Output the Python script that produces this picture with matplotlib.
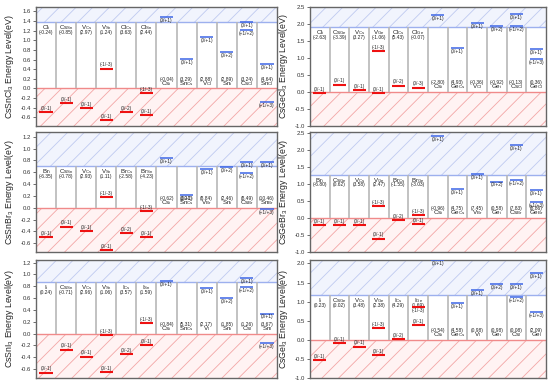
import matplotlib.pyplot as plt



# FONTS

plt.rcParams['font.family'] = ['Liberation Sans', 'DejaVu Sans']
plt.rcParams['mathtext.default'] = 'regular'
plt.rcParams['hatch.linewidth'] = 0.6



# DATA  (defect, formation energy, transition levels in eV)

sncl_names = ["Cl_i", "Cs_Sn", "V_Cs", "V_Sn", "Cl_Cs", "Cl_Sn",
              "Cs_i", "Sn_Cs", "V_Cl", "Sn_i", "Cs_Cl", "Sn_Cl"]
sncl_eform = [-0.24, -0.85, 2.97, 1.24, 3.63, 2.44, -0.04, 3.29, 2.88, 2.89, 3.24, 4.64]
sncl_cbm = 1.37
sncl_levels = [("Cl_i", -0.49, "(0/-1)"), ("Cs_Sn", -0.30, "(0/-1)"), ("V_Cs", -0.41, "(0/-1)"),
               ("V_Sn", 0.41, "(-1/-3)"), ("V_Sn", -0.66, "(0/-1)"), ("Cl_Cs", -0.49, "(0/-2)"),
               ("Cl_Sn", -0.10, "(-1/-3)"), ("Cl_Sn", -0.56, "(0/-1)"),
               ("Cs_i", 1.49, "(0/+1)"), ("Sn_Cs", 0.61, "(0/+1)"), ("V_Cl", 1.06, "(0/+1)"),
               ("Sn_i", 0.75, "(0/+2)"), ("Cs_Cl", 1.38, "(0/+1)"), ("Cs_Cl", 1.21, "(+1/+2)"),
               ("Sn_Cl", 0.51, "(0/+1)"), ("Sn_Cl", -0.29, "(+1/+3)")]

snbr_names = ["Br_i", "Cs_Sn", "V_Cs", "V_Sn", "Br_Cs", "Br_Sn",
              "Cs_i", "Sn_Cs", "V_Br", "Sn_i", "Cs_Br", "Sn_Br"]
snbr_eform = [-6.35, -0.78, 2.93, 1.11, -2.58, -4.23, -0.62, 3.21, 8.84, 2.46, 8.49, 10.46]
snbr_cbm = 0.70
snbr_levels = [("Br_i", -0.50, "(0/-1)"), ("Cs_Sn", -0.32, "(0/-1)"), ("V_Cs", -0.39, "(0/-1)"),
               ("V_Sn", 0.18, "(-1/-3)"), ("V_Sn", -0.72, "(0/-1)"), ("Br_Cs", -0.43, "(0/-2)"),
               ("Br_Sn", -0.06, "(-1/-3)"), ("Br_Sn", -0.50, "(0/-1)"),
               ("Cs_i", 0.85, "(0/+1)"), ("Sn_Cs", 0.22, "(0/+1)"), ("V_Br", 0.66, "(0/+1)"),
               ("Sn_i", 0.69, "(0/+2)"), ("Cs_Br", 0.78, "(0/+1)"), ("Cs_Br", 0.58, "(+1/+2)"),
               ("Sn_Br", 0.78, "(0/+1)"), ("Sn_Br", -0.03, "(+1/+3)")]

sni_names = ["I_i", "Cs_Sn", "V_Cs", "V_Sn", "I_Cs", "I_Sn",
             "Cs_i", "Sn_Cs", "V_I", "Sn_i", "Cs_I", "Sn_I"]
sni_eform = [0.24, -0.71, 2.96, 1.06, 3.57, 1.59, -0.84, 5.31, 2.17, 1.85, 1.26, 3.67]
sni_cbm = 0.87
sni_levels = [("I_i", -0.66, "(0/-1)"), ("Cs_Sn", -0.27, "(0/-1)"), ("V_Cs", -0.39, "(0/-1)"),
              ("V_Sn", -0.03, "(-1/-3)"), ("V_Sn", -0.65, "(0/-1)"), ("I_Cs", -0.35, "(0/-2)"),
              ("I_Sn", 0.18, "(-1/-3)"), ("I_Sn", -0.20, "(0/-1)"),
              ("Cs_i", 0.89, "(0/+1)"), ("V_I", 0.77, "(0/+1)"), ("Sn_i", 0.60, "(0/+2)"),
              ("Cs_I", 0.94, "(0/+1)"), ("Cs_I", 0.79, "(+1/+2)"),
              ("Sn_I", 0.34, "(0/+1)"), ("Sn_I", -0.16, "(+1/+3)")]

gecl_names = ["Cl_i", "Cs_Ge", "V_Cs", "V_Ge", "Cl_Cs", "Cl_Ge",
              "Cs_i", "Ge_Cs", "V_Cl", "Ge_i", "Cs_Cl", "Ge_Cl"]
gecl_eform = [-2.63, -3.39, 3.27, -1.06, 5.43, -0.07, -2.80, 4.93, -0.36, -0.92, -0.13, 0.36]
gecl_cbm = 1.91
gecl_levels = [("Cl_i", -0.05, "(0/-1)"), ("Cs_Ge", 0.21, "(0/-1)"), ("V_Cs", 0.04, "(0/-1)"),
               ("V_Ge", 1.20, "(-1/-3)"), ("V_Ge", -0.05, "(0/-1)"), ("Cl_Cs", 0.18, "(0/-2)"),
               ("Cl_Ge", 0.12, "(0/-3)"),
               ("Cs_i", 2.26, "(0/+1)"), ("Ge_Cs", 1.29, "(0/+1)"), ("V_Cl", 2.04, "(0/+1)"),
               ("Ge_i", 1.93, "(0/+2)"), ("Cs_Cl", 2.30, "(0/+1)"), ("Cs_Cl", 1.93, "(+1/+2)"),
               ("Ge_Cl", 1.27, "(0/+1)"), ("Ge_Cl", 0.97, "(+1/+3)")]

gebr_names = ["Br_i", "Cs_Ge", "V_Cs", "V_Ge", "Br_Cs", "Br_Ge",
              "Cs_i", "Ge_Cs", "V_Br", "Ge_i", "Cs_Br", "Ge_Br"]
gebr_eform = [-6.80, 0.62, 3.58, 2.47, -1.55, -3.03, -0.96, 4.75, 7.45, 0.58, 7.83, 8.86]
gebr_cbm = 1.27
gebr_levels = [("Br_i", -0.22, "(0/-1)"), ("Cs_Ge", -0.22, "(0/-1)"), ("V_Cs", -0.22, "(0/-1)"),
               ("V_Ge", 0.34, "(-1/-3)"), ("V_Ge", -0.61, "(0/-1)"), ("Br_Cs", -0.06, "(0/-2)"),
               ("Br_Ge", 0.09, "(-1/-3)"), ("Br_Ge", -0.18, "(0/-1)"),
               ("Cs_i", 2.42, "(0/+1)"), ("Ge_Cs", 0.84, "(0/+1)"), ("V_Br", 1.30, "(0/+1)"),
               ("Ge_i", 1.07, "(0/+2)"), ("Cs_Br", 2.14, "(0/+1)"), ("Cs_Br", 1.11, "(+1/+2)"),
               ("Ge_Br", 0.83, "(0/+1)"), ("Ge_Br", 0.46, "(+1/+3)")]

gei_names = ["I_i", "Cs_Ge", "V_Cs", "V_Ge", "I_Cs", "I_Ge",
             "Cs_i", "Ge_Cs", "V_I", "Ge_i", "Cs_I", "Ge_I"]
gei_eform = [0.23, 0.02, 3.48, 2.38, 4.29, 1.69, -0.54, 4.58, 0.98, 0.98, 0.08, 2.09]
gei_cbm = 1.18
gei_levels = [("I_i", -0.54, "(0/-1)"), ("Cs_Ge", -0.08, "(0/-1)"), ("V_Cs", -0.18, "(0/-1)"),
              ("V_Ge", 0.30, "(-1/-3)"), ("V_Ge", -0.41, "(0/-1)"), ("I_Cs", 0.01, "(0/-2)"),
              ("I_Ge", 0.86, "(-1/-3)"), ("I_Ge", 0.38, "(0/-1)"),
              ("Cs_i", 2.08, "(0/+1)"), ("Ge_Cs", 0.96, "(0/+1)"), ("V_I", 1.30, "(0/+1)"),
              ("Ge_i", 1.45, "(0/+2)"), ("Cs_I", 1.45, "(0/+1)"), ("Cs_I", 1.11, "(+1/+2)"),
              ("Ge_I", 1.74, "(0/+1)"), ("Ge_I", 0.73, "(+1/+3)")]
gei_label_below = [("I_Ge", "(-1/-3)")]



# DRAWING

def pretty(name):
    base, sub = name.split("_")
    return base + "$_{" + sub + "}$"


def draw_panel(ax, names, eform, cbm, levels, ylim, yticks, ylabel, label_below=()):
    n = len(names)
    ax.set_xlim(0, n)
    ax.set_ylim(*ylim)

    # valence / conduction band regions
    ax.axhspan(ylim[0], 0, facecolor='#fff3f3', edgecolor='#f3a5a5', hatch='//', lw=0, zorder=0)
    ax.axhspan(cbm, ylim[1], facecolor='#f1f4fd', edgecolor='#bfcaf0', hatch='//', lw=0, zorder=0)
    ax.axhline(0, color='#f08a8a', lw=1.0, zorder=1)
    ax.axhline(cbm, color='#9db0ee', lw=1.0, zorder=1)
    ax.vlines(range(1, n), 0, cbm, color='#b8b8b8', lw=1.2, zorder=1)

    for i, (nm, ef) in enumerate(zip(names, eform)):
        if i < n // 2:
            ax.annotate(pretty(nm), (i + 0.5, cbm), xytext=(0, -0.7), textcoords='offset points',
                        ha='center', va='top', fontsize=4.4, color='#222222')
            ax.annotate("(%.2f)" % ef, (i + 0.5, cbm), xytext=(0, -7.4), textcoords='offset points',
                        ha='center', va='center', fontsize=3.5, color='#222222')
        else:
            ax.annotate(pretty(nm), (i + 0.5, 0), xytext=(0, 0.6), textcoords='offset points',
                        ha='center', va='bottom', fontsize=4.5, color='#222222')
            ax.annotate("(%.2f)" % ef, (i + 0.5, 0), xytext=(0, 6.8), textcoords='offset points',
                        ha='center', va='center', fontsize=3.5, color='#222222')

    for nm, e, lab in levels:
        i = names.index(nm)
        acceptor = i < n // 2
        color = '#ee1111' if acceptor else '#3d66e6'
        ax.hlines(e, i + 0.17, i + 0.83, color=color, lw=1.5 if acceptor else 1.1, zorder=3)
        dy = 2.7 if acceptor else -2.5
        if (nm, lab) in label_below:
            dy = -2.7
        ax.annotate(lab, (i + 0.5, e), xytext=(0, dy), textcoords='offset points',
                    ha='center', va='center', fontsize=3.4, color='#222222')

    ax.set_xticks([])
    ax.set_yticks(yticks)
    ax.set_yticklabels(["%.1f" % t for t in yticks])
    ax.tick_params(axis='y', labelsize=4.3, length=2, width=0.6, pad=1.5,
                   color='#555555', labelcolor='#333333')
    for s in ax.spines.values():
        s.set_color('#666666')
        s.set_linewidth(1.0)
    ax.set_ylabel(ylabel, fontsize=6.3, labelpad=3.5, color='#222222')


fig = plt.figure(figsize=(5.5, 3.83), dpi=100)

left_x, left_w = 0.0655, 0.438
right_x, right_w = 0.5636, 0.429
rows = [(0.672, 0.311), (0.342, 0.313), (0.013, 0.309)]

sn_ticks = [round(-0.6 + 0.2 * k, 1) for k in range(12)]
ge_ticks = [-1.0, -0.5, 0.0, 0.5, 1.0, 1.5, 2.0, 2.5]

ax = fig.add_axes([left_x, rows[0][0], left_w, rows[0][1]])
draw_panel(ax, sncl_names, sncl_eform, sncl_cbm, sncl_levels, (-0.77, 1.70), sn_ticks,
           "CsSnCl$_3$ Energy Level(eV)")

ax = fig.add_axes([left_x, rows[1][0], left_w, rows[1][1]])
draw_panel(ax, snbr_names, snbr_eform, snbr_cbm, snbr_levels, (-0.75, 1.28), sn_ticks[:10],
           "CsSnBr$_3$ Energy Level(eV)")

ax = fig.add_axes([left_x, rows[2][0], left_w, rows[2][1]])
draw_panel(ax, sni_names, sni_eform, sni_cbm, sni_levels, (-0.75, 1.25), sn_ticks[:10],
           "CsSnI$_3$ Energy Level(eV)")

ax = fig.add_axes([right_x, rows[0][0], right_w, rows[0][1]])
draw_panel(ax, gecl_names, gecl_eform, gecl_cbm, gecl_levels, (-1.0, 2.52), ge_ticks,
           "CsGeCl$_3$ Energy Level(eV)")

ax = fig.add_axes([right_x, rows[1][0], right_w, rows[1][1]])
draw_panel(ax, gebr_names, gebr_eform, gebr_cbm, gebr_levels, (-1.0, 2.52), ge_ticks,
           "CsGeBr$_3$ Energy Level(eV)")

ax = fig.add_axes([right_x, rows[2][0], right_w, rows[2][1]])
draw_panel(ax, gei_names, gei_eform, gei_cbm, gei_levels, (-1.0, 2.1), ge_ticks[:7],
           "CsGeI$_3$ Energy Level(eV)", label_below=gei_label_below)

plt.savefig("out.png", dpi=100)
